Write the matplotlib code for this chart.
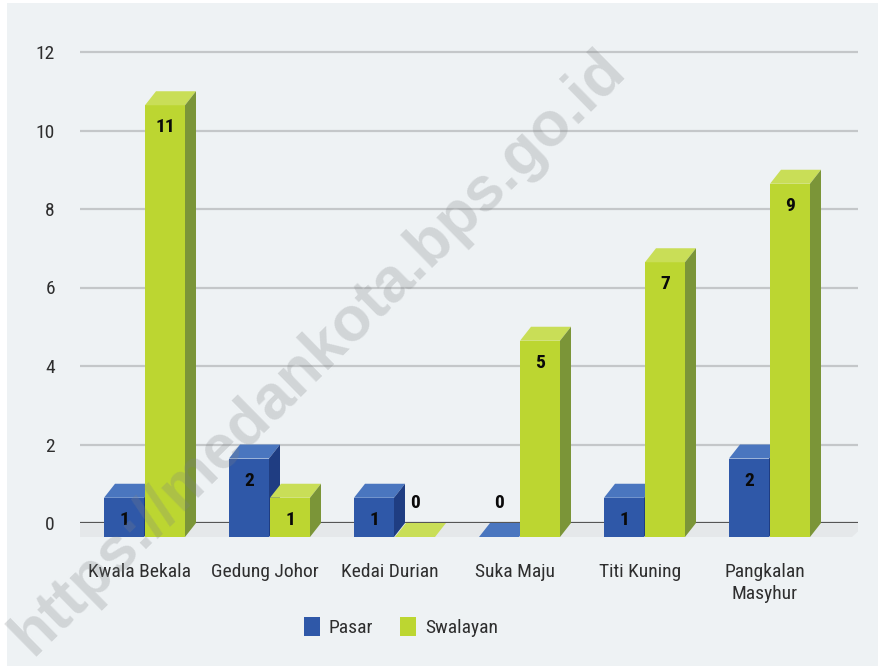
import matplotlib
matplotlib.use("Agg")
import matplotlib.pyplot as plt
from matplotlib.patches import Polygon, Rectangle, Patch

categories = ["Kwala Bekala", "Gedung Johor", "Kedai Durian", "Suka Maju", "Titi Kuning", "Pangkalan\nMasyhur"]
pasar = [1, 2, 1, 0, 1, 2]
swalayan = [11, 1, 0, 5, 7, 9]
series_names = ["Pasar", "Swalayan"]
yticks = [0, 2, 4, 6, 8, 10, 12]

W, H = 879, 666
DPI = 100
fig = plt.figure(figsize=(W / DPI, H / DPI), dpi=DPI, facecolor="white")
BG = "#eef2f4"
fig.patches.append(Rectangle((7 / W, 0), 1 - 7 / W, 1 - 3 / H, transform=fig.transFigure,
                             facecolor=BG, edgecolor="none", zorder=-5))

NARROW = ["Roboto Condensed", "DejaVu Sans Condensed", "Liberation Sans Narrow", "Roboto", "DejaVu Sans"]

# pixel geometry
px_per_x = 125.0
px_per_y = 39.25
x0_px = 144.0   # group 0 centre
y0_px = 523.0   # value 0
left_px, right_px = 80.0, 858.0
top_px, bot_px = 40.0, 548.0

ax = fig.add_axes([left_px / W, 1 - bot_px / H, (right_px - left_px) / W, (bot_px - top_px) / H])
ax.set_zorder(2)
ax.set_facecolor("none")
ax.set_xlim((left_px - x0_px) / px_per_x, (right_px - x0_px) / px_per_x)
ax.set_ylim((y0_px - bot_px) / px_per_y, (y0_px - top_px) / px_per_y)
for s in ax.spines.values():
    s.set_visible(False)

# grid
for t in yticks:
    if t == 0:
        ax.axhline(t, color="#555555", lw=1.6, zorder=1)
    else:
        ax.axhline(t, color="#c4c7c9", lw=1.6, zorder=1)

ax.set_yticks(yticks)
ax.set_yticklabels([str(t) for t in yticks], fontsize=14, color="#2e2e2e", family=NARROW)
ax.tick_params(axis="y", length=0, pad=18)
ax.set_xticks([])

bw = 40 / px_per_x
dx = 11 / px_per_x
dy = 14 / px_per_y

# floor
fx0 = (64 - x0_px) / px_per_x
fx1 = (852 - x0_px) / px_per_x
ax.add_patch(Polygon([(fx0, -dy), (fx1, -dy), (fx1 + 15 / px_per_x, 0), (fx0 + 15 / px_per_x, 0)],
                     closed=True, facecolor="#e5e8ea", edgecolor="none", zorder=1.5))

colors = [
    {"front": "#2f58a8", "top": "#4a76bf", "side": "#1f3d82"},
    {"front": "#bcd631", "top": "#c9de57", "side": "#7b9538"},
]

def bar3d(x, v, c):
    xa, xb = x, x + bw
    zo = 3
    ax.add_patch(Polygon([(xa, -dy), (xb, -dy), (xb, v - dy), (xa, v - dy)], closed=True,
                         facecolor=c["front"], edgecolor="none", zorder=zo))
    ax.add_patch(Polygon([(xa, v - dy), (xb, v - dy), (xb + dx, v), (xa + dx, v)], closed=True,
                         facecolor=c["top"], edgecolor="none", zorder=zo))
    if v > 0:
        ax.add_patch(Polygon([(xb, -dy), (xb + dx, 0), (xb + dx, v), (xb, v - dy)], closed=True,
                             facecolor=c["side"], edgecolor="none", zorder=zo))
    cx = xa + bw / 2
    if v > 0:
        ty = v - dy - 22 / px_per_y
    else:
        ty = 20 / px_per_y
    ax.text(cx, ty, str(v), ha="center", va="center", fontsize=14, fontweight="bold",
            color="#0a0a0a", family=NARROW, zorder=6)

for i in range(len(categories)):
    bar3d(i - bw, pasar[i], colors[0])
    bar3d(i + 0.008, swalayan[i], colors[1])

# category labels
for i, c in enumerate(categories):
    fig.text((x0_px + px_per_x * i - 4) / W, 1 - 563 / H, c, ha="center", va="top",
             fontsize=14, color="#2e2e2e", family=NARROW, linespacing=1.3)

# legend
handles = [Patch(facecolor=colors[0]["front"], edgecolor="none"),
           Patch(facecolor=colors[1]["front"], edgecolor="none")]
fig.legend(handles, series_names, loc="center", bbox_to_anchor=(401 / W, 1 - 627 / H),
           ncol=2, frameon=False, prop={"family": NARROW, "size": 14},
           handlelength=0.82, handleheight=1.1, handletextpad=0.45, columnspacing=1.4,
           labelcolor="#2e2e2e")

# watermark
fig.text(318 / W, 1 - 353 / H, "https://medankota.bps.go.id", rotation=44.5,
         rotation_mode="anchor", ha="center", va="center", fontsize=45, fontweight="bold",
         color="#7f8386", alpha=0.26, family=["Liberation Sans", "DejaVu Sans"], zorder=10)

fig.savefig("out.png", dpi=DPI, facecolor="white")
